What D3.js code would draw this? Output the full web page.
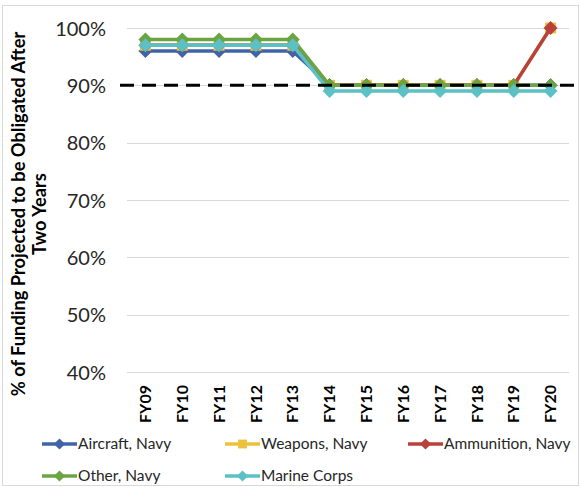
<!DOCTYPE html>
<html>
<head>
<meta charset="utf-8">
<script src="https://cdn.jsdelivr.net/npm/d3@7"></script>
<style>
  html, body { margin: 0; padding: 0; background: #fff; }
  svg { display: block; font-family: Lato, "Open Sans", sans-serif; }
</style>
</head>
<body>
<svg id="chart" width="580" height="487"></svg>
<script>
// Fiscal years on the x axis
const years = ["FY09", "FY10", "FY11", "FY12", "FY13", "FY14", "FY15", "FY16", "FY17", "FY18", "FY19", "FY20"];

// Percent of funding projected to be obligated after two years, by account
const aircraftNavy   = [96, 96, 96, 96, 96, 90, 90, 90, 90, 90, 90, 90];
const weaponsNavy    = [97, 97, 97, 97, 97, 90, 90, 90, 90, 90, 90, 100];
const ammunitionNavy = [97, 97, 97, 97, 97, 90, 90, 90, 90, 90, 90, 100];
const otherNavy      = [98, 98, 98, 98, 98, 90, 90, 90, 90, 90, 90, 90];
const marineCorps    = [97, 97, 97, 97, 97, 89, 89, 89, 89, 89, 89, 89];

const seriesNames = ["Aircraft, Navy", "Weapons, Navy", "Ammunition, Navy", "Other, Navy", "Marine Corps"];
const yTicks = [40, 50, 60, 70, 80, 90, 100];
const targetLevel = 90;

const series = [
  { name: seriesNames[0], values: aircraftNavy,   color: "#4164A8", marker: "diamond" },
  { name: seriesNames[1], values: weaponsNavy,    color: "#EBC23E", marker: "square" },
  { name: seriesNames[2], values: ammunitionNavy, color: "#B8413D", marker: "diamond" },
  { name: seriesNames[3], values: otherNavy,      color: "#6AA443", marker: "diamond" },
  { name: seriesNames[4], values: marineCorps,    color: "#5BC1C5", marker: "diamond" }
];

const svg = d3.select("#chart");

// outer chart frame
svg.append("rect")
  .attr("x", 2.5).attr("y", 5.5).attr("width", 576).attr("height", 480)
  .attr("fill", "#fff").attr("stroke", "#d9d9d9").attr("stroke-width", 1);

const plot = { left: 127, right: 569, top: 28, bottom: 372 };

const x = d3.scaleBand().domain(years).range([plot.left, plot.right]);
const y = d3.scaleLinear().domain([40, 100]).range([plot.bottom, plot.top]);

// horizontal gridlines
svg.append("g").selectAll("line").data(yTicks).join("line")
  .attr("x1", plot.left).attr("x2", plot.right)
  .attr("y1", d => Math.round(y(d)) + 0.5).attr("y2", d => Math.round(y(d)) + 0.5)
  .attr("stroke", "#d9d9d9").attr("stroke-width", 1);

// y axis tick labels
const yAxis = d3.axisLeft(y).tickValues(yTicks).tickFormat(d => d + "%").tickSize(0).tickPadding(0);
const yg = svg.append("g").attr("transform", `translate(${plot.left - 21},0)`).call(yAxis);
yg.select(".domain").remove();
yg.selectAll("text").attr("font-size", 20).attr("fill", "#262626")
  .attr("font-family", "Lato, 'Open Sans', sans-serif").attr("dy", "0.35em");

// x axis tick labels, rotated
const xAxis = d3.axisBottom(x).tickSize(0);
const xg = svg.append("g").attr("transform", `translate(0,${plot.bottom})`).call(xAxis);
xg.select(".domain").remove();
xg.selectAll("text")
  .attr("font-size", 16).attr("font-weight", "bold").attr("fill", "#000")
  .attr("font-family", "Lato, 'Open Sans', sans-serif")
  .attr("text-anchor", "end")
  .attr("transform", "rotate(-90)")
  .attr("x", -13).attr("y", 0).attr("dy", "0.35em");

// y axis title
const title = svg.append("text")
  .attr("transform", `translate(19,${(33 + 395) / 2}) rotate(-90)`)
  .attr("text-anchor", "middle").attr("font-size", 18.3).attr("font-weight", "bold").attr("fill", "#000");
title.append("tspan").attr("x", 0).attr("dy", "0.35em").text("% of Funding Projected to be Obligated After");
title.append("tspan").attr("x", 0).attr("dy", "1.15em").text("Two Years");

// markers
function drawMarker(g, type, color, scale) {
  if (type === "square") {
    const s = 11 * scale;
    g.append("rect").attr("x", -s / 2).attr("y", -s / 2).attr("width", s).attr("height", s).attr("fill", color);
  } else {
    const s = 7 * scale;
    g.append("path").attr("d", `M0,${-s}L${s},0L0,${s}L${-s},0Z`).attr("fill", color);
  }
}

const line = d3.line()
  .x((d, i) => x(years[i]) + x.bandwidth() / 2)
  .y(d => y(d));

const cx = (i) => x(years[i]) + x.bandwidth() / 2;

series.forEach(s => {
  const g = svg.append("g");
  g.append("path").datum(s.values).attr("d", line)
    .attr("fill", "none").attr("stroke", s.color).attr("stroke-width", 3.5)
    .attr("stroke-linejoin", "round");
  s.values.forEach((v, i) => {
    const m = g.append("g").attr("transform", `translate(${cx(i)},${y(v)})`);
    drawMarker(m, s.marker, s.color, 1);
  });
});

// 90% target line
svg.append("line")
  .attr("x1", 120).attr("x2", 580)
  .attr("y1", y(targetLevel)).attr("y2", y(targetLevel))
  .attr("stroke", "#000").attr("stroke-width", 3).attr("stroke-dasharray", "14,8");

// legend
const legendPos = [[42, 444], [225, 444], [408, 444], [42, 476], [225, 476]];
series.forEach((s, i) => {
  const [lx, ly] = legendPos[i];
  const g = svg.append("g").attr("transform", `translate(${lx},${ly})`);
  g.append("line").attr("x1", 0).attr("x2", 35).attr("y1", 0).attr("y2", 0)
    .attr("stroke", s.color).attr("stroke-width", 3.5);
  const m = g.append("g").attr("transform", "translate(17.5,0)");
  drawMarker(m, s.marker, s.color, 0.8);
  g.append("text").attr("x", 36).attr("y", 0).attr("dy", "0.35em")
    .attr("font-size", 15.5).attr("fill", "#262626").text(s.name);
});
</script>
</body>
</html>
